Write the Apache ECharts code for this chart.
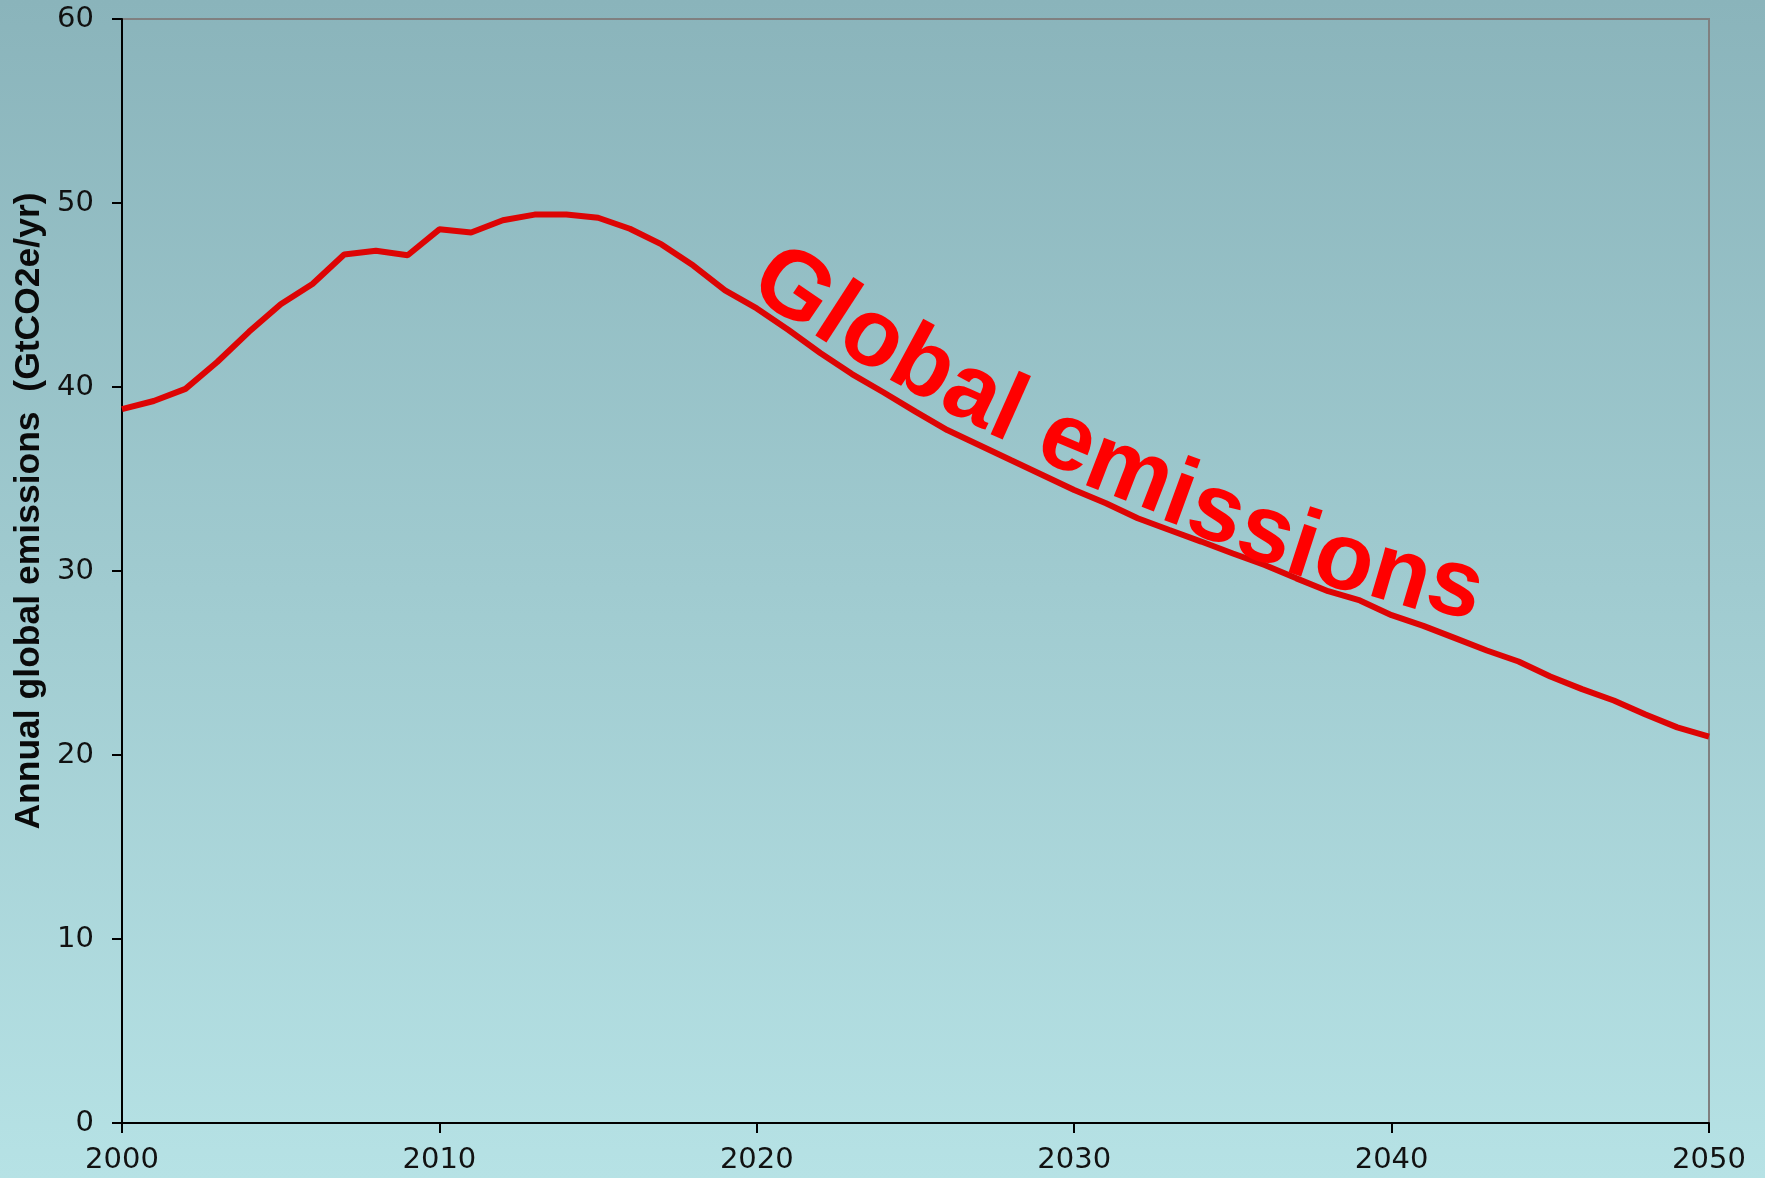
<!DOCTYPE html>
<html>
<head>
<meta charset="utf-8">
<script src="https://cdn.jsdelivr.net/npm/echarts@6/dist/echarts.min.js"></script>
<style>
html,body{margin:0;padding:0;width:1765px;height:1178px;overflow:hidden;}
#chart{width:1765px;height:1178px;}
</style>
</head>
<body>
<div id="chart"></div>
<script>
const years = [2000,2001,2002,2003,2004,2005,2006,2007,2008,2009,
  2010,2011,2012,2013,2014,2015,2016,2017,2018,2019,
  2020,2021,2022,2023,2024,2025,2026,2027,2028,2029,
  2030,2031,2032,2033,2034,2035,2036,2037,2038,2039,
  2040,2041,2042,2043,2044,2045,2046,2047,2048,2049,2050];
const emissions = [38.8,39.24,39.9,41.36,43.0,44.5,45.6,47.2,47.4,47.16,
  48.57,48.4,49.06,49.37,49.37,49.2,48.6,47.75,46.6,45.25,
  44.27,43.1,41.85,40.7,39.7,38.66,37.66,36.85,36.03,35.22,
  34.4,33.68,32.87,32.23,31.6,30.95,30.33,29.6,28.9,28.4,
  27.6,27.02,26.35,25.68,25.08,24.27,23.58,22.96,22.2,21.5,21.0];
const yTicks = [0,10,20,30,40,50,60];
const xTicks = [2000,2010,2020,2030,2040,2050];
const yTitle = 'Annual global emissions  (GtCO2e/yr)';
const arcLabel = 'Global emissions';

const chart = echarts.init(document.getElementById('chart'));

// --- curved annotation: letters placed along a bending path ---
const fs = 96;
const fontStr = 'bold ' + fs + 'px "Liberation Sans", Arial, sans-serif';
const ctx = document.createElement('canvas').getContext('2d');
ctx.font = fontStr;
const chars = arcLabel.split('');
const widths = chars.map(c => ctx.measureText(c).width);
const pathKnots = [[0,33],[1.5,30],[3,27],[4.5,26],[6,22],[7,15],[8.4,8]];
const tiltKnots = [[0,35],[0.92,33],[2.97,24],[4.97,20],[6.36,18],[7.42,16.5],[8.4,16]];
function interp(kn, s){
  if (s <= kn[0][0]) return kn[0][1];
  for (let i=1;i<kn.length;i++){
    if (s <= kn[i][0]){
      const t=(s-kn[i-1][0])/(kn[i][0]-kn[i-1][0]);
      return kn[i-1][1]+t*(kn[i][1]-kn[i-1][1]);
    }
  }
  return kn[kn.length-1][1];
}
const total = widths.reduce((a,b)=>a+b,0);
const pts = [];
let px=0, py=0;
for (let s=0; s<=total+1; s+=1){
  pts.push([px,py]);
  const th = interp(pathKnots, s/fs)*Math.PI/180;
  px += Math.cos(th); py += Math.sin(th);
}
const anchor = {x: 792, y: 290};
const letters = [];
let cum = 0, shift = null;
chars.forEach((ch, i) => {
  const s = cum + widths[i]/2;
  cum += widths[i];
  const p = pts[Math.round(s)];
  if (shift === null) shift = {x: anchor.x - p[0], y: anchor.y - p[1]};
  if (ch === ' ') return;
  const tilt = interp(tiltKnots, s/fs)*Math.PI/180;
  letters.push({
    type: 'text', z: 100,
    x: p[0] + shift.x, y: p[1] + shift.y,
    rotation: -tilt,
    style: {text: ch, fill: '#FF0000', font: fontStr,
      textAlign: 'center', textVerticalAlign: 'middle', align: 'center', verticalAlign: 'middle'}
  });
});

const option = {
  animation: false,
  backgroundColor: {type: 'linear', x: 0, y: 0, x2: 0, y2: 1,
    colorStops: [{offset: 0, color: '#8AB4BB'}, {offset: 1, color: '#B6E2E5'}]},
  grid: {left: 122, right: 56, top: 19, bottom: 55, show: true,
    borderColor: '#808080', borderWidth: 2, backgroundColor: 'transparent'},
  xAxis: {
    type: 'value', min: 2000, max: 2050, interval: 10,
    axisLine: {show: true, lineStyle: {color: '#000', width: 2}},
    axisTick: {show: true, inside: false, length: 10, lineStyle: {color: '#000', width: 2}},
    axisLabel: {color: '#111', fontFamily: 'DejaVu Sans', fontSize: 29, margin: 23,
      formatter: v => xTicks.includes(v) ? String(v) : ''},
    splitLine: {show: false}
  },
  yAxis: {
    type: 'value', min: 0, max: 60, interval: 10,
    axisLine: {show: true, lineStyle: {color: '#000', width: 2}},
    axisTick: {show: true, inside: false, length: 10, lineStyle: {color: '#000', width: 2}},
    axisLabel: {color: '#111', fontFamily: 'DejaVu Sans', fontSize: 29, margin: 28,
      formatter: v => yTicks.includes(v) ? String(v) : ''},
    splitLine: {show: false}
  },
  graphic: [
    {type: 'text', x: 29, y: 511, rotation: Math.PI/2, z: 50,
      style: {text: yTitle, fill: '#0a0a0a', font: 'bold 35.5px "Liberation Sans", Arial, sans-serif',
        textAlign: 'center', textVerticalAlign: 'middle', align: 'center', verticalAlign: 'middle'}}
  ].concat(letters),
  series: [{
    type: 'line', data: years.map((y, i) => [y, emissions[i]]),
    showSymbol: false, symbol: 'none',
    lineStyle: {color: '#DD0404', width: 6},
    z: 10
  }]
};
chart.setOption(option);
</script>
</body>
</html>
